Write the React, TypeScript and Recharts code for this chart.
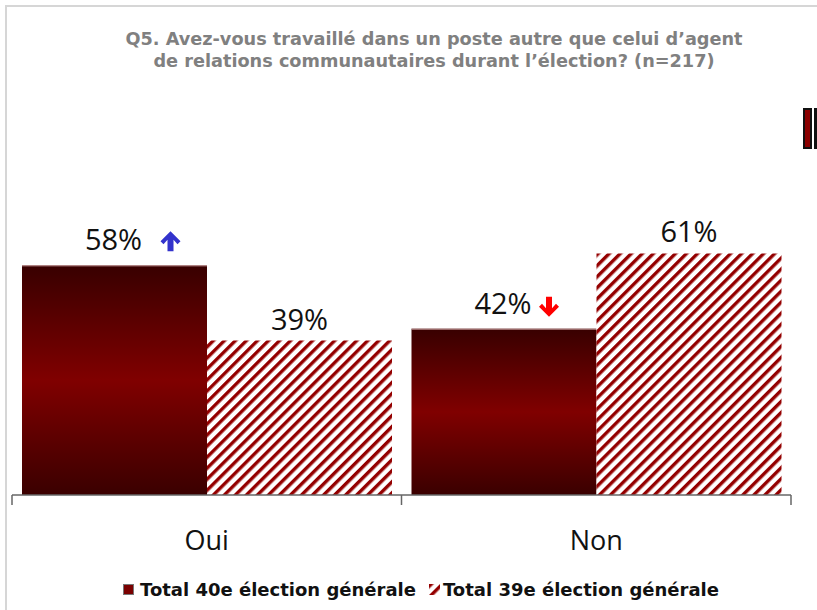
import React from 'react';
import { BarChart, Bar, XAxis, YAxis, LabelList, Legend } from 'recharts';

const categories = ['Oui', 'Non'];
const total40 = [58, 42];
const total39 = [39, 61];
const trend40 = ['up', 'down'];
const seriesNames = ['Total 40e élection générale', 'Total 39e élection générale'];
const titleLines = [
  'Q5. Avez-vous travaillé dans un poste autre que celui d’agent',
  'de relations communautaires durant l’élection? (n=217)',
];

const data = categories.map((c, i) => ({
  cat: c,
  t40: total40[i],
  t39: total39[i],
  trend: trend40[i],
}));

const FONT = '"Open Sans", "Noto Sans", sans-serif';
const BOLDFONT = '"DejaVu Sans", Verdana, sans-serif';

const Arrow = ({ cx, y0, dir }: { cx: number; y0: number; dir: string }) => {
  const h = 20;
  const w = 10;
  const s = 3;
  let pts: number[][] = [
    [0, 0],
    [w, w],
    [w - 3, w + 3],
    [s, 8.5],
    [s, h],
    [-s, h],
    [-s, 8.5],
    [-(w - 3), w + 3],
    [-w, w],
  ];
  if (dir === 'down') pts = pts.map(([x, y]) => [x, h - y]);
  const d = pts.map(([x, y], i) => `${i ? 'L' : 'M'}${cx + x},${y0 + y}`).join(' ') + ' Z';
  return <path d={d} fill={dir === 'up' ? '#3333cc' : '#ff0000'} />;
};

const Label40 = (props: any) => {
  const { x, y, width, value, index } = props;
  const cx = x + width / 2;
  const base = y - 15;
  const dir = trend40[index];
  return (
    <g>
      <text x={cx - 1} y={base} textAnchor="middle" fontFamily={FONT} fontSize={29} fill="#111">
        {`${value}%`}
      </text>
      <Arrow cx={cx + (dir === 'up' ? 56 : 45)} y0={dir === 'up' ? base - 19 : base - 17} dir={dir} />
    </g>
  );
};

const Label39 = (props: any) => {
  const { x, y, width, value } = props;
  return (
    <text x={x + width / 2} y={y - 11} textAnchor="middle" fontFamily={FONT} fontSize={29} fill="#111">
      {`${value}%`}
    </text>
  );
};

const Bar40Shape = (props: any) => {
  const { x, y, width, height } = props;
  return (
    <g>
      <rect x={x} y={y} width={width} height={height} fill="url(#grad40)" />
      <line x1={x} x2={x + width} y1={y + 0.5} y2={y + 0.5} stroke="#c89a9a" strokeWidth={1} />
    </g>
  );
};

const CatTick = (props: any) => {
  const { x, y, payload, index, visibleTicksCount } = props;
  const off = payload && payload.offset ? payload.offset : 194.75;
  const ay = y - 10;
  return (
    <g>
      <line x1={x - off} x2={x - off} y1={ay} y2={ay + 10} stroke="#666" strokeWidth={1.5} />
      {index === visibleTicksCount - 1 && (
        <line x1={x + off} x2={x + off} y1={ay} y2={ay + 10} stroke="#666" strokeWidth={1.5} />
      )}
      <text x={x} y={ay + 55} textAnchor="middle" fontFamily={FONT} fontSize={27} fill="#111">
        {payload.value}
      </text>
    </g>
  );
};

const LegendContent = () => (
  <div
    style={{
      display: 'flex',
      alignItems: 'center',
      paddingLeft: 123,
      fontFamily: BOLDFONT,
      fontWeight: 700,
      fontSize: 18,
      color: '#111',
      whiteSpace: 'nowrap',
    }}
  >
    <svg width={12} height={12} style={{ marginRight: 5 }}>
      <rect x={0.5} y={0.5} width={10} height={10} fill="#7a0000" stroke="#777" strokeWidth={1} />
    </svg>
    <span style={{ marginRight: 13 }}>{seriesNames[0]}</span>
    <svg width={12} height={12} style={{ marginRight: 2 }}>
      <rect x={0} y={0} width={11} height={11} fill="url(#hatch39)" />
    </svg>
    <span>{seriesNames[1]}</span>
  </div>
);

export default function App() {
  return (
    <div style={{ position: 'absolute', left: 0, top: 0, width: 817, height: 610, background: '#fff', overflow: 'hidden' }}>
      <div
        style={{
          position: 'absolute',
          left: 5,
          top: 5,
          width: 820,
          height: 620,
          borderTop: '2px solid #d6d6d6',
          borderLeft: '2px solid #d6d6d6',
        }}
      />
      <div
        style={{
          position: 'absolute',
          left: 50,
          top: 28,
          width: 768,
          textAlign: 'center',
          fontFamily: BOLDFONT,
          fontWeight: 700,
          fontSize: 17.7,
          lineHeight: '22px',
          color: '#808080',
          whiteSpace: 'nowrap',
        }}
      >
        <div>{titleLines[0]}</div>
        <div>{titleLines[1]}</div>
      </div>
      <div
        style={{
          position: 'absolute',
          left: 803,
          top: 108,
          width: 5,
          height: 37,
          background: '#8b0000',
          border: '2px solid #111',
        }}
      />
      <div style={{ position: 'absolute', left: 814, top: 108, width: 3, height: 41, background: '#111' }} />
      <div style={{ position: 'absolute', left: 0, top: 0 }}>
        <BarChart
          width={817}
          height={610}
          data={data}
          margin={{ top: 99, right: 26, bottom: 85, left: 12 }}
          barGap={0}
          barCategoryGap={10}
        >
          <defs>
            <linearGradient id="grad40" x1="0" y1="0" x2="0" y2="1">
              <stop offset="0%" stopColor="#380000" />
              <stop offset="50%" stopColor="#800000" />
              <stop offset="100%" stopColor="#3a0000" />
            </linearGradient>
            <pattern id="hatch39" patternUnits="userSpaceOnUse" width={7.8} height={7.8} patternTransform="rotate(45)">
              <rect x={0} y={0} width={7.8} height={7.8} fill="#ffffff" />
              <rect x={0} y={0} width={3.4} height={7.8} fill="#940000" />
            </pattern>
          </defs>
          <YAxis hide domain={[0, 100]} />
          <XAxis
            dataKey="cat"
            height={30}
            axisLine={{ stroke: '#666', strokeWidth: 1.5 }}
            tickLine={false}
            tickSize={10}
            tickMargin={0}
            interval={0}
            tick={<CatTick />}
          />
          <Legend
            verticalAlign="middle"
            align="center"
            wrapperStyle={{ position: 'absolute', left: 0, top: 579, width: 817 }}
            content={<LegendContent />}
          />
          <Bar dataKey="t40" name={seriesNames[0]} fill="#7a0000" shape={<Bar40Shape />} isAnimationActive={false}>
            <LabelList dataKey="t40" content={<Label40 />} />
          </Bar>
          <Bar dataKey="t39" name={seriesNames[1]} fill="url(#hatch39)" isAnimationActive={false}>
            <LabelList dataKey="t39" content={<Label39 />} />
          </Bar>
        </BarChart>
      </div>
    </div>
  );
}
